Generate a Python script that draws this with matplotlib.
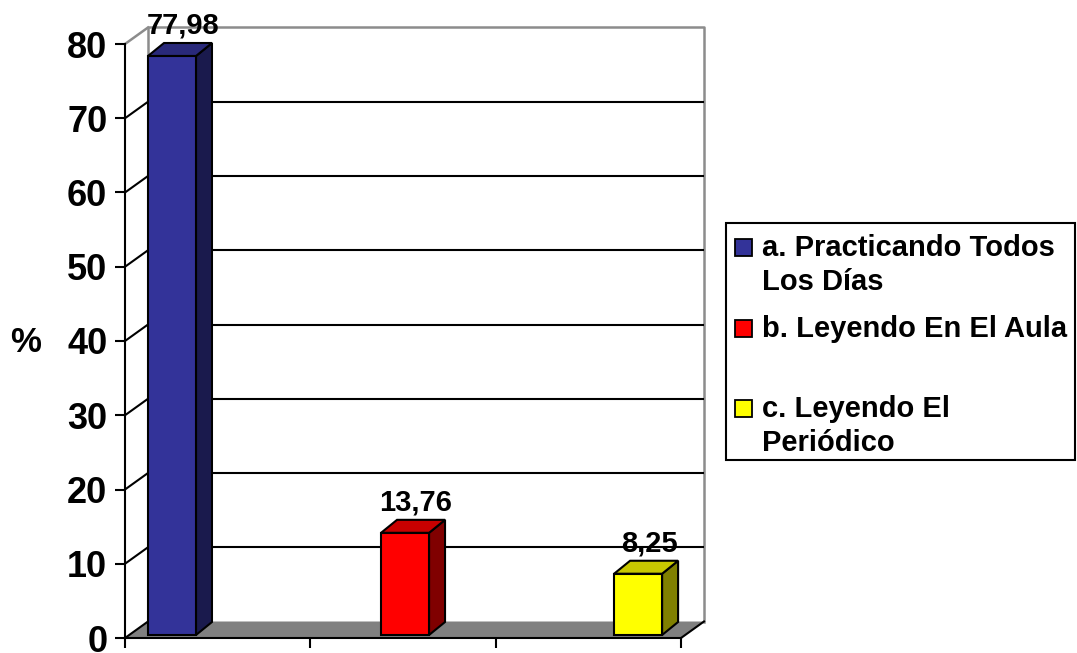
import numpy as np
import matplotlib
matplotlib.use('Agg')
import matplotlib.pyplot as plt
from matplotlib.patches import Polygon, Rectangle

plt.rcParams['font.family'] = ['Liberation Sans', 'DejaVu Sans']
plt.rcParams['font.weight'] = 'bold'

# data
labels = ['a. Practicando Todos\nLos Días', 'b. Leyendo En El Aula', 'c. Leyendo El\nPeriódico']
values = [77.98, 13.76, 8.25]
value_text = ['77,98', '13,76', '8,25']
yticks = np.arange(0, 81, 10)

front_colors = ['#333399', '#ff0000', '#ffff00']
top_colors = ['#29297a', '#c80000', '#c8c800']
side_colors = ['#1a1a4d', '#800000', '#808000']

W, H = 1077, 653
fig = plt.figure(figsize=(W / 100, H / 100), dpi=100)
ax = fig.add_axes([125 / W, (H - 638) / H, 556 / W, 594 / H])
ax.set_xlim(0, 3)
ax.set_ylim(0, 80)
ax.set_facecolor('none')

# size of one pixel in data units
ux = 3 / 556
uy = 80 / 594

wdx, wdy = 23 * ux, 16.5 * uy   # depth of walls / floor
bdx, bdy = 16 * ux, 13 * uy     # depth of bars
bw = 48 * ux
bx = 0.124 + 1.2575 * np.arange(len(values))
by = 3 * uy

gray = '#8c8c8c'

# floor
ax.add_patch(Polygon([(0, 0), (3, 0), (3 + wdx, wdy), (wdx, wdy)], closed=True,
                     fc='#808080', ec='none', clip_on=False, zorder=1))
ax.plot([3, 3 + wdx], [0, wdy], color='k', lw=1.5, clip_on=False, zorder=2)

# back wall outline
ax.plot([wdx, wdx, 3 + wdx, 3 + wdx], [wdy, 80 + wdy, 80 + wdy, wdy],
        color=gray, lw=1.8, clip_on=False, zorder=1)
ax.plot([0, wdx], [80, 80 + wdy], color=gray, lw=1.8, clip_on=False, zorder=1)

# gridlines on back wall and side wall
ax.hlines(yticks[1:-1] + wdy, wdx, 3 + wdx, colors='k', lw=1.5, zorder=1.5, clip_on=False)
for v in yticks[:-1]:
    ax.plot([0, wdx], [v, v + wdy], color='k', lw=1.5, clip_on=False, zorder=1.5)

# bars
for i, v in enumerate(values):
    x0, y0 = bx[i], by
    x1, y1 = x0 + bw, y0 + v
    front = [(x0, y0), (x1, y0), (x1, y1), (x0, y1)]
    top = [(x0, y1), (x1, y1), (x1 + bdx, y1 + bdy), (x0 + bdx, y1 + bdy)]
    side = [(x1, y0), (x1 + bdx, y0 + bdy), (x1 + bdx, y1 + bdy), (x1, y1)]
    for pts, c in [(side, side_colors[i]), (top, top_colors[i]), (front, front_colors[i])]:
        ax.add_patch(Polygon(pts, closed=True, fc=c, ec='k', lw=1.5,
                             joinstyle='miter', clip_on=False, zorder=3))
    ax.text(x0 + (bw + bdx) / 2 + 3 * ux, y1 + bdy + 9 * uy, value_text[i],
            ha='center', va='baseline', fontsize=21, fontweight='bold', zorder=4)

# axes
for s in ['top', 'right']:
    ax.spines[s].set_visible(False)
for s in ['left', 'bottom']:
    ax.spines[s].set_linewidth(1.5)
    ax.spines[s].set_zorder(5)
ax.set_xticks([0, 1, 2, 3])
ax.set_xticklabels([])
ax.set_yticks(yticks)
ax.set_yticklabels([str(t) for t in yticks], fontsize=26, fontweight='bold')
ax.tick_params(direction='out', length=7.2, width=1.5, pad=5.5)

def fx(px):
    return px / W

def fy(py):
    return 1 - py / H

fig.text(fx(26), fy(343), '%', ha='center', va='center', fontsize=25, fontweight='bold')

# legend
fig.patches.append(Rectangle((fx(726), fy(460)), (1075 - 726) / W, (460 - 223) / H,
                             transform=fig.transFigure, fc='white', ec='k', lw=1.5))
entry_y = [256, 337, 417]
for i, lab in enumerate(labels):
    base = entry_y[i]
    fig.patches.append(Rectangle((fx(735), fy(base)), 17 / W, 17 / H,
                                 transform=fig.transFigure, fc=front_colors[i], ec='k', lw=1.3))
    for j, line in enumerate(lab.split('\n')):
        fig.text(fx(762), fy(base + 34 * j), line, ha='left', va='baseline',
                 fontsize=21, fontweight='bold')

fig.savefig('out.png', dpi=100)
